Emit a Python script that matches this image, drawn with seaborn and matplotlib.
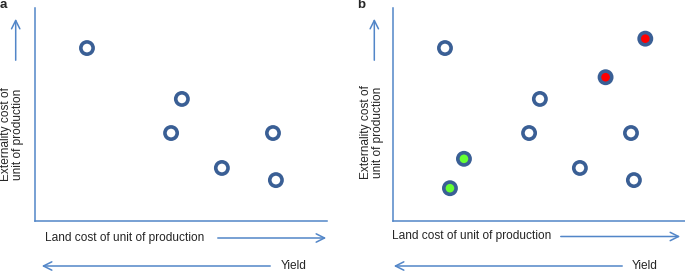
import matplotlib
matplotlib.use("Agg")
import matplotlib.pyplot as plt
import seaborn as sns
import pandas as pd

sns.set_style("white")
plt.rcParams['font.family'] = ['Liberation Sans', 'DejaVu Sans']

# Data (arbitrary units)
base_x = [1.78, 5.03, 4.66, 8.15, 6.40, 8.25]
base_y = [8.12, 5.73, 4.13, 4.13, 2.49, 1.92]
red_x = [8.64, 7.28]
red_y = [8.56, 6.75]
green_x = [2.43, 1.95]
green_y = [2.92, 1.54]

panel_labels = ["a", "b"]
ylabel_text = "Externality cost of\nunit of production"
xlabel_text = "Land cost of unit of production"
yield_text = "Yield"

AXIS_C = "#5286c8"
EDGE_C = "#3a5f95"
palette = {"open": "white", "red": "#ff0000", "green": "#66ff33"}

df_a = pd.DataFrame({"x": base_x, "y": base_y, "kind": ["open"] * len(base_x)})
df_b = pd.DataFrame({
    "x": base_x + red_x + green_x,
    "y": base_y + red_y + green_y,
    "kind": ["open"] * len(base_x) + ["red"] * len(red_x) + ["green"] * len(green_x),
})

W, H = 685, 272
fig = plt.figure(figsize=(W / 100, H / 100), dpi=100)

def px(x0, y0, x1, y1):
    return [x0 / W, (H - y1) / H, (x1 - x0) / W, (y1 - y0) / H]

axes = [fig.add_axes(px(35, 8, 327, 221)), fig.add_axes(px(393, 8, 685, 221))]

for ax, df in zip(axes, [df_a, df_b]):
    sns.scatterplot(data=df, x="x", y="y", hue="kind", palette=palette, ax=ax,
                    s=78, edgecolor=EDGE_C, linewidth=2.6, legend=False, zorder=3,
                    clip_on=False)
    ax.set_xlim(0, 10)
    ax.set_ylim(0, 10)
    ax.set_xticks([])
    ax.set_yticks([])
    ax.set_xlabel("")
    ax.set_ylabel("")
    for s in ["top", "right"]:
        ax.spines[s].set_visible(False)
    for s in ["left", "bottom"]:
        ax.spines[s].set_color(AXIS_C)
        ax.spines[s].set_linewidth(1.1)
    ax.set_facecolor("none")

def arrow(x0, y0, x1, y1):
    fig.add_artist(matplotlib.patches.FancyArrowPatch(
        (x0 / W, 1 - y0 / H), (x1 / W, 1 - y1 / H), transform=fig.transFigure,
        arrowstyle="->,head_length=6,head_width=3", color=AXIS_C, lw=1.1,
        mutation_scale=1))

FS = 8.6
# panel a texts
fig.text(0 / W, 1 - 5 / H, panel_labels[0], fontsize=9.5, fontweight="bold", va="center", ha="left")
fig.text(12.5 / W, 1 - 134 / H, ylabel_text, rotation=90, fontsize=FS, ha="center", va="center",
         multialignment="center", linespacing=1.0)
arrow(15.7, 63, 15.7, 16)
fig.text(45 / W, 1 - 238 / H, xlabel_text, fontsize=FS, ha="left", va="center")
arrow(215, 238, 329, 238)
fig.text(281 / W, 1 - 266 / H, yield_text, fontsize=FS, ha="left", va="center")
arrow(273, 266, 39, 266)

# panel b texts
fig.text(357 / W, 1 - 5 / H, panel_labels[1], fontsize=9.5, fontweight="bold", va="center", ha="left")
fig.text(372.5 / W, 1 - 132 / H, ylabel_text, rotation=90, fontsize=FS, ha="center", va="center",
         multialignment="center", linespacing=1.0)
arrow(374.3, 63, 374.3, 16)
fig.text(392 / W, 1 - 236.5 / H, xlabel_text, fontsize=FS, ha="left", va="center")
arrow(558, 236.5, 683, 236.5)
fig.text(632 / W, 1 - 266 / H, yield_text, fontsize=FS, ha="left", va="center")
arrow(625, 266, 391, 266)

fig.savefig("out.png", dpi=100)
